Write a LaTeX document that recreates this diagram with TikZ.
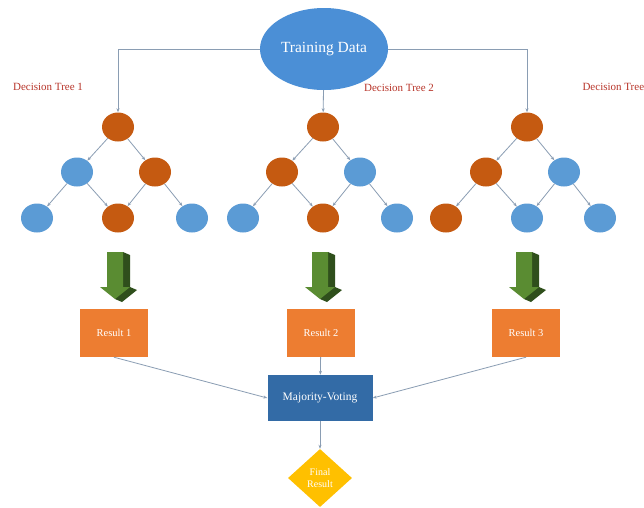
\documentclass[tikz,border=0pt]{standalone}
\usepackage{fontspec}
\setmainfont{Liberation Serif}
\usetikzlibrary{arrows.meta}
\usetikzlibrary{shapes.geometric}

\definecolor{datablue}{HTML}{4B8FD6}
\definecolor{nodeblue}{HTML}{5B9BD5}
\definecolor{nodeorange}{HTML}{C55A11}
\definecolor{resorange}{HTML}{ED7D31}
\definecolor{voteblue}{HTML}{336BA6}
\definecolor{finalyellow}{HTML}{FFC000}
\definecolor{treered}{HTML}{B8352A}
\definecolor{linegray}{HTML}{8A9DB3}
\definecolor{arrowgreen}{HTML}{5A8C32}
\definecolor{arrowdark}{HTML}{2F4F1C}

% green block arrow below a tree
\newcommand{\greenarrow}[1]{%
  \begin{scope}[shift={(#1,0)}]
    \fill[arrowdark] (5,252) -- (12,255) -- (12,287) -- (19,290) -- (4,302) -- (-3,299) -- cycle;
    \fill[arrowgreen] (-11,252) -- (5,252) -- (5,287) -- (12,287) -- (-3,299) -- (-18,287) -- (-11,287) -- cycle;
  \end{scope}}

\begin{document}
\begin{tikzpicture}[x=1pt,y=-1pt,
    onode/.style={ellipse,fill=nodeorange,minimum width=32pt,minimum height=29pt,inner sep=0pt},
    bnode/.style={ellipse,fill=nodeblue,minimum width=32pt,minimum height=29pt,inner sep=0pt},
    resbox/.style={rectangle,fill=resorange,minimum width=68pt,minimum height=48pt,
                   text=white,font=\fontsize{10.5}{12}\selectfont},
    treelab/.style={text=treered,font=\fontsize{11}{13}\selectfont}]
	\fill[white] (0,0) rectangle (644,507);
	\useasboundingbox (0,0) rectangle (644,507);

	\node[ellipse,fill=datablue,minimum width=128pt,minimum height=82pt,inner sep=0pt,
	      text=white,font=\fontsize{15.5}{17}\selectfont] (td) at (324,49) {Training Data};

	\node[treelab] (lab1) at (48,87) {Decision Tree 1};
	\node[treelab] (lab2) at (399,88) {Decision Tree 2};
	\node[treelab,anchor=west] (lab3) at (579,87) {Decision Tree};

	% tree 1
	\node[onode] (t1a) at (118,127) {};
	\node[bnode] (t1b) at (77,172) {};
	\node[onode] (t1c) at (155,172) {};
	\node[bnode] (t1d) at (37,218) {};
	\node[onode] (t1e) at (118,218) {};
	\node[bnode] (t1f) at (192,218) {};
	% tree 2
	\node[onode] (t2a) at (323,127) {};
	\node[onode] (t2b) at (282,172) {};
	\node[bnode] (t2c) at (360,172) {};
	\node[bnode] (t2d) at (243,218) {};
	\node[onode] (t2e) at (323,218) {};
	\node[bnode] (t2f) at (397,218) {};
	% tree 3
	\node[onode] (t3a) at (527,127) {};
	\node[onode] (t3b) at (486,172) {};
	\node[bnode] (t3c) at (564,172) {};
	\node[onode] (t3d) at (446,218) {};
	\node[bnode] (t3e) at (527,218) {};
	\node[bnode] (t3f) at (600,218) {};

	\greenarrow{118}
	\greenarrow{323}
	\greenarrow{527}

	\node[resbox] (res1) at (114,333) {Result 1};
	\node[resbox] (res2) at (321,333) {Result 2};
	\node[resbox] (res3) at (526,333) {Result 3};

	\node[rectangle,fill=voteblue,minimum width=105pt,minimum height=46pt,
	      text=white,font=\fontsize{11.5}{13}\selectfont] (vote) at (320,398) {Majority-Voting};
	\node[diamond,fill=finalyellow,minimum width=64pt,minimum height=58pt,inner sep=0pt,
	      align=center,text=white,font=\fontsize{10}{12}\selectfont] (final) at (320,478) {Final\\Result};

	\begin{scope}[>={Stealth[length=4pt,width=3pt]},
	              every edge/.style={draw=linegray,->,line width=0.8pt}]
		\draw[linegray,line width=0.9pt,->] (td.west) -| (t1a);
		\draw[linegray,line width=0.9pt,->] (td.east) -| (t3a);
		\path (td) edge (t2a);
		\path (t1a) edge (t1b);
		\path (t1a) edge (t1c);
		\path (t1b) edge (t1d);
		\path (t1b) edge (t1e);
		\path (t1c) edge (t1e);
		\path (t1c) edge (t1f);
		\path (t2a) edge (t2b);
		\path (t2a) edge (t2c);
		\path (t2b) edge (t2d);
		\path (t2b) edge (t2e);
		\path (t2c) edge (t2e);
		\path (t2c) edge (t2f);
		\path (t3a) edge (t3b);
		\path (t3a) edge (t3c);
		\path (t3b) edge (t3d);
		\path (t3b) edge (t3e);
		\path (t3c) edge (t3e);
		\path (t3c) edge (t3f);
		\path (res1.south) edge (vote.west);
		\path (res3.south) edge (vote.east);
		\path (res2) edge (vote);
		\path (vote) edge (final);
	\end{scope}
\end{tikzpicture}
\end{document}
